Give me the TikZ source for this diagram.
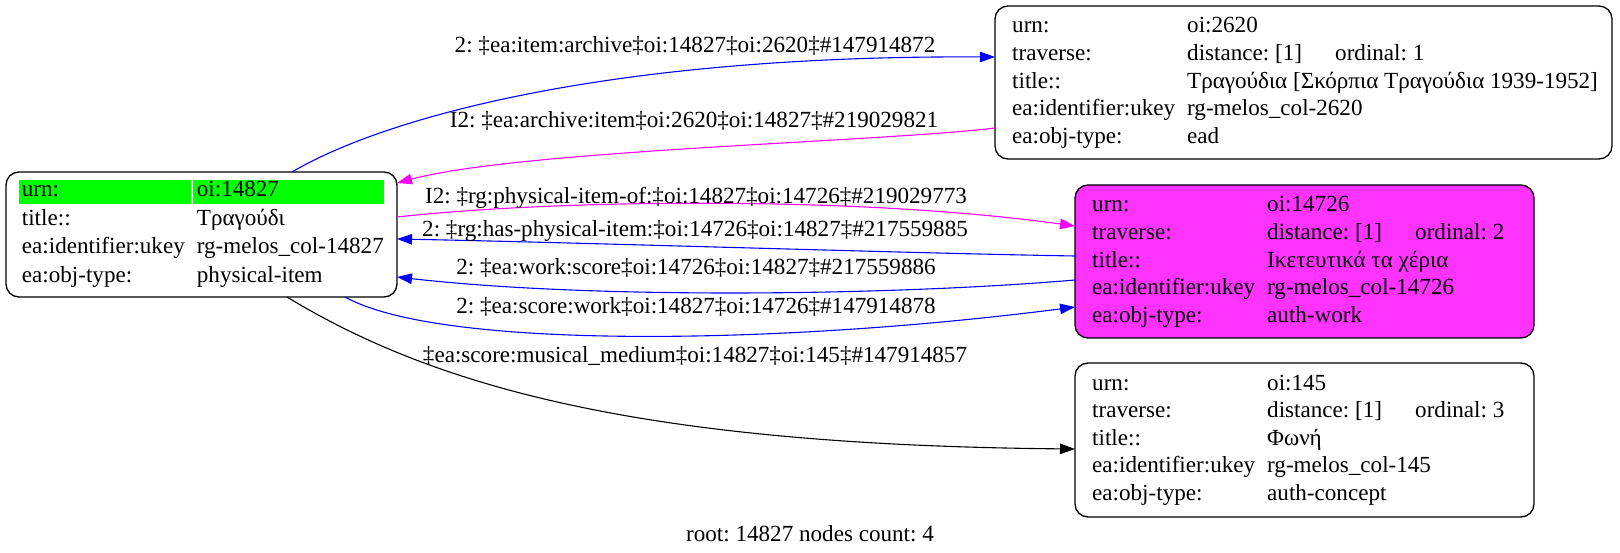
\documentclass[tikz,border=0pt]{standalone}
\usepackage{fontspec}
\setmainfont{Liberation Serif}
\usetikzlibrary{arrows.meta,calc}
\definecolor{magfill}{RGB}{255,51,255}
\definecolor{magline}{RGB}{255,0,255}
\definecolor{bluline}{RGB}{0,0,255}
\definecolor{grn}{RGB}{0,255,0}
\tikzset{
  box/.style={draw=black, line width=1.3pt, rounded corners=13pt, anchor=north west, inner sep=0pt, outer sep=0pt},
  txt/.style={anchor=base west, inner sep=0pt, font=\fontsize{23.1}{28}\selectfont},
  elabel/.style={anchor=base, inner sep=0pt, font=\fontsize{23.1}{28}\selectfont},
  conn/.style={line width=1.1pt, -{Triangle[length=15pt,width=10.5pt]}},
}
\newcommand{\kvrow}[5]{\node[txt] (#1k) at (#2,#3) {#4};\node[txt] (#1v) at (#2+175,#3) {#5};}
\frenchspacing
\begin{document}
\frenchspacing
\begin{tikzpicture}[x=1pt,y=-1pt]
\useasboundingbox (0,0) rectangle (1620,553);
% nodes
\node[box, minimum width=391pt, minimum height=125pt] (L) at (6,172) {};
\node[box, minimum width=617pt, minimum height=153pt] (T) at (995,6) {};
\node[box, fill=magfill, minimum width=459pt, minimum height=153pt] (M) at (1075,185) {};
\node[box, minimum width=459pt, minimum height=154pt] (B) at (1075,363) {};
% left node
\fill[grn] (19,180) rectangle (191,204);
\fill[grn] (193,180) rectangle (384,204);
\kvrow{La}{21.7}{197}{urn:}{oi:14827}
\kvrow{Lb}{21.7}{225.5}{title::}{Τραγούδι}
\kvrow{Lc}{21.7}{254}{ea:identifier:ukey}{rg-melos\_col-14827}
\kvrow{Ld}{21.7}{282.5}{ea:obj-type:}{physical-item}
% top node
\kvrow{Ta}{1012}{33}{urn:}{oi:2620}
\kvrow{Tb}{1012}{60.6}{traverse:}{distance: [1]}
\node[txt] (Tbo) at (1335,60.6) {ordinal: 1};
\kvrow{Tc}{1012}{88.2}{title::}{Τραγούδια [Σκόρπια Τραγούδια 1939-1952]}
\kvrow{Td}{1012}{115.8}{ea:identifier:ukey}{rg-melos\_col-2620}
\kvrow{Te}{1012}{143.4}{ea:obj-type:}{ead}
% magenta node
\kvrow{Ma}{1092}{212}{urn:}{oi:14726}
\kvrow{Mb}{1092}{239.6}{traverse:}{distance: [1]}
\node[txt] (Mbo) at (1415,239.6) {ordinal: 2};
\kvrow{Mc}{1092}{267.2}{title::}{Ικετευτικά τα χέρια}
\kvrow{Md}{1092}{294.8}{ea:identifier:ukey}{rg-melos\_col-14726}
\kvrow{Me}{1092}{322.4}{ea:obj-type:}{auth-work}
% bottom node
\kvrow{Ba}{1092}{390}{urn:}{oi:145}
\kvrow{Bb}{1092}{417.6}{traverse:}{distance: [1]}
\node[txt] (Bbo) at (1415,417.6) {ordinal: 3};
\kvrow{Bc}{1092}{445.2}{title::}{Φωνή}
\kvrow{Bd}{1092}{472.8}{ea:identifier:ukey}{rg-melos\_col-145}
\kvrow{Be}{1092}{500.4}{ea:obj-type:}{auth-concept}
% edges
\draw[conn, bluline] ($(L.north west)+(286,0)$) .. controls (380,120) and (600,55) .. ($(T.north west)+(0,51)$);
\draw[conn, magline] ($(T.north west)+(0,122)$) .. controls (880,142) and (520,150) .. ($(L.north east)+(0,11)$);
\draw[conn, magline] ($(L.north east)+(0,45)$) .. controls (550,200) and (850,195) .. ($(M.north west)+(0,41)$);
\draw[conn, bluline] ($(M.north west)+(0,71)$) .. controls (900,253) and (600,243) .. ($(L.north east)+(0,67)$);
\draw[conn, bluline] ($(M.north west)+(0,95)$) .. controls (900,295) and (600,300) .. ($(L.north east)+(0,105)$);
\draw[conn, bluline] ($(L.south west)+(339,0)$) .. controls (440,350) and (780,345) .. ($(M.north west)+(0,122)$);
\draw[conn, black] ($(L.south west)+(281,0)$) .. controls (440,390) and (650,445) .. ($(B.north west)+(0,86)$);
% edge labels
\node[elabel] (e1) at (695,52.5) {2: ‡ea:item:archive‡oi:14827‡oi:2620‡\#147914872};
\node[elabel] (e2) at (694,127.5) {I2: ‡ea:archive:item‡oi:2620‡oi:14827‡\#219029821};
\node[elabel] (e3) at (696,203.5) {I2: ‡rg:physical-item-of:‡oi:14827‡oi:14726‡\#219029773};
\node[elabel] (e4) at (695,236.5) {2: ‡rg:has-physical-item:‡oi:14726‡oi:14827‡\#217559885};
\node[elabel] (e5) at (696,274.5) {2: ‡ea:work:score‡oi:14726‡oi:14827‡\#217559886};
\node[elabel] (e6) at (696,313.5) {2: ‡ea:score:work‡oi:14827‡oi:14726‡\#147914878};
\node[elabel] (e7) at (695,362.5) {‡ea:score:musical\_medium‡oi:14827‡oi:145‡\#147914857};
% caption
\node[elabel] (cap) at (810,541) {root: 14827 nodes count: 4};
\end{tikzpicture}
\end{document}
